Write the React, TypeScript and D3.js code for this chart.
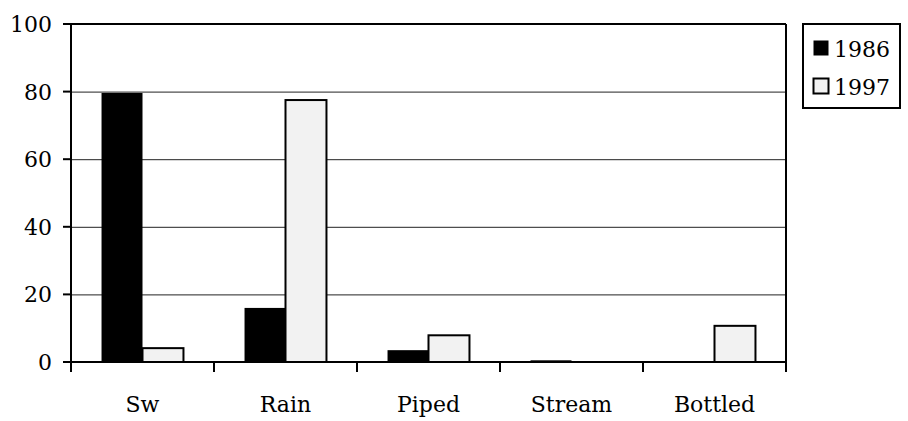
import * as d3 from 'd3';

const categories = ['Sw', 'Rain', 'Piped', 'Stream', 'Bottled'];
const seriesNames = ['1986', '1997'];
const values1986 = [79.6, 16, 3.5, 0.5, 0];
const values1997 = [4.1, 77.5, 7.9, 0, 10.7];
const yTicks = [0, 20, 40, 60, 80, 100];

const W = 908;
const H = 421;
const fills: Record<string, string> = { '1986': '#000000', '1997': '#f2f2f2' };
const textStyle = { fontFamily: "'DejaVu Serif', serif", fontSize: '22px' };

const App = () => {
  const left = 71;
  const right = 786;
  const top = 24;
  const bottom = 362;

  const x = d3.scaleBand<string>().domain(categories).range([left, right]).paddingInner(0.427).paddingOuter(0.2135);
  const x1 = d3.scaleBand<string>().domain(seriesNames).range([0, x.bandwidth()]);
  const y = d3.scaleLinear().domain([0, 100]).range([bottom, top]);

  const data = categories.map((c, i) => ({ cat: c, vals: [values1986[i], values1997[i]] }));
  const step = (right - left) / categories.length;
  const boundaries = d3.range(categories.length + 1).map((i) => left + i * step);

  return (
    <svg width={W} height={H} style={{ position: 'absolute', left: 0, top: 0, background: '#fff' }}>
      {/* gridlines */}
      {yTicks.filter((t) => t > 0 && t < 100).map((t) => (
        <line key={t} x1={left} x2={right} y1={y(t) + 0.5} y2={y(t) + 0.5} stroke="#222" strokeWidth={1} />
      ))}
      {/* plot border top + right */}
      <line x1={left} x2={right} y1={y(100)} y2={y(100)} stroke="#000" strokeWidth={2} />
      <line x1={right} x2={right} y1={top} y2={bottom + 10} stroke="#000" strokeWidth={2} />

      {/* bars */}
      {data.map((d) => (
        <g key={d.cat} transform={`translate(${x(d.cat)},0)`}>
          {d.vals.map((v, j) => {
            const s = seriesNames[j];
            if (v <= 0) return null;
            return (
              <rect
                key={s}
                x={x1(s)}
                y={y(v)}
                width={x1.bandwidth()}
                height={bottom - y(v)}
                fill={fills[s]}
                stroke="#000"
                strokeWidth={s === '1997' ? 2 : 0}
              />
            );
          })}
        </g>
      ))}

      {/* y axis */}
      <line x1={left} x2={left} y1={top - 1} y2={bottom + 10} stroke="#000" strokeWidth={2} />
      {yTicks.map((t) => (
        <g key={t}>
          <line x1={left - 8} x2={left} y1={y(t)} y2={y(t)} stroke="#000" strokeWidth={2} />
          <text x={52} y={y(t) + 8} textAnchor="end" style={textStyle} fill="#000">
            {t}
          </text>
        </g>
      ))}

      {/* x axis */}
      <line x1={left - 8} x2={right + 1} y1={bottom} y2={bottom} stroke="#000" strokeWidth={2} />
      {boundaries.map((b, i) => (
        <line key={i} x1={b} x2={b} y1={bottom} y2={bottom + 10} stroke="#000" strokeWidth={2} />
      ))}
      {categories.map((c) => (
        <text key={c} x={(x(c) ?? 0) + x.bandwidth() / 2} y={412} textAnchor="middle" style={textStyle} fill="#000">
          {c}
        </text>
      ))}

      {/* legend */}
      <rect x={803} y={24} width={97} height={84} fill="#fff" stroke="#000" strokeWidth={2} />
      {seriesNames.map((s, i) => (
        <g key={s} transform={`translate(813,${40 + i * 38})`}>
          <rect x={0.5} y={0.5} width={15} height={15} fill={fills[s]} stroke="#000" strokeWidth={s === '1997' ? 2 : 0} />
          <text x={21} y={17} style={textStyle} fill="#000">
            {s}
          </text>
        </g>
      ))}
    </svg>
  );
};

export default App;
